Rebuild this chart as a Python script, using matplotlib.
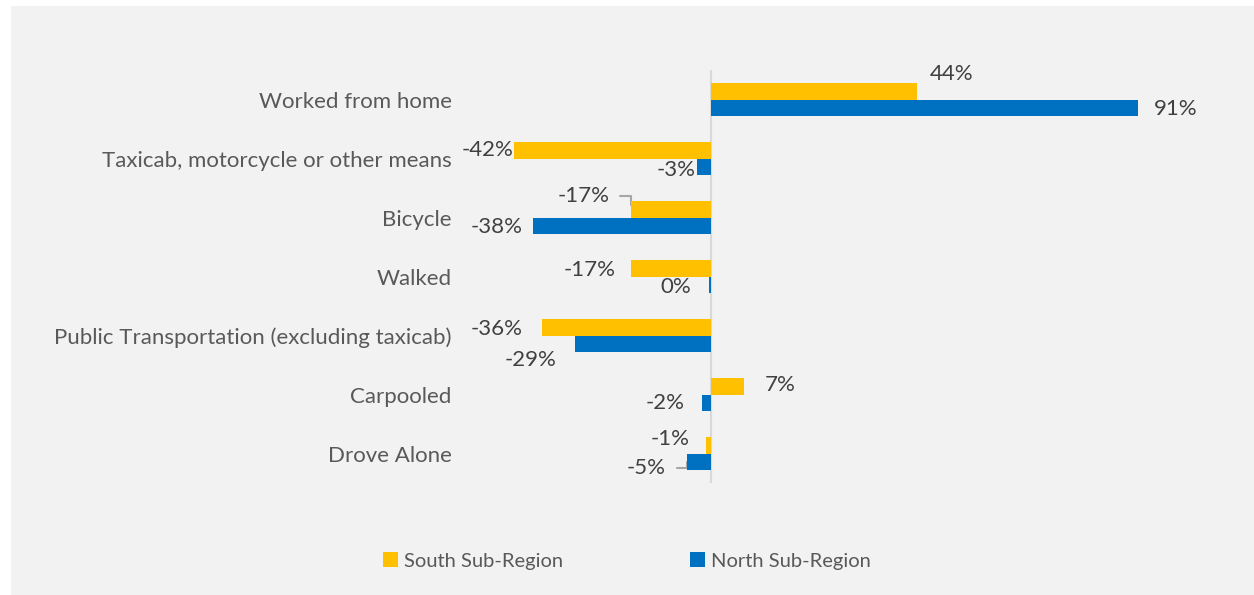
import matplotlib.pyplot as plt
from matplotlib.patches import Rectangle
import numpy as np

# change in means of transportation, percent
categories = ["Worked from home", "Taxicab, motorcycle or other means", "Bicycle",
              "Walked", "Public Transportation (excluding taxicab)", "Carpooled",
              "Drove Alone"]
south = [44, -42, -17, -17, -36, 7, -1]
north = [91, -3, -38, -0.4, -29, -2, -5]
series_names = ["South Sub-Region", "North Sub-Region"]

# label offsets (pixels) from bar end, Excel-ish placement
south_off = [(34, 17), (-26, 0), (-48, 9), (-42, -2), (-45, -2), (36, 1), (-36, 6)]
north_off = [(38, -1), (-21, -3), (-36, -1), (-33, -2), (-44, -16), (-36, 0), (-41, -6)]
south_leader = [False, False, True, False, False, False, False]
north_leader = [False, False, False, False, False, False, True]

plt.rcParams['font.family'] = ['Lato', 'DejaVu Sans']

yellow = "#FFC000"
blue = "#0070C0"
txt = "#404040"
fs = 16

fig = plt.figure(figsize=(12.54, 5.95), dpi=100, facecolor="white")
fig.patches.append(Rectangle((11 / 1254, 0), 1, 1 - 6 / 595, transform=fig.transFigure,
                             facecolor="#F2F2F2", edgecolor="none", zorder=-5))

ax = fig.add_axes([460 / 1254, 1 - 483 / 595, 750 / 1254, 413 / 595])
ax.set_facecolor("none")

y = np.arange(len(categories))
h = 0.288
ax.barh(y - h / 2, south, height=h, color=yellow, label=series_names[0], zorder=2)
ax.barh(y + h / 2, north, height=h, color=blue, label=series_names[1], zorder=2)

ax.set_xlim(-53.5, 106.4)
ax.set_ylim(len(categories) - 0.5, -0.5)
ax.axvline(0, color="#D9D9D9", lw=1.5, zorder=1)

ax.set_yticks(y)
ax.set_yticklabels(categories, fontsize=fs, color="#595959")
ax.tick_params(axis="y", length=0, pad=6)
ax.set_xticks([])
for s in ax.spines.values():
    s.set_visible(False)

def add_labels(vals, offs, leaders, yy):
    for v, (dx, dy), ld, yc in zip(vals, offs, leaders, yy):
        ap = None
        if ld:
            ap = dict(arrowstyle="-", color="#A6A6A6", lw=1.5,
                      connectionstyle="angle,angleA=0,angleB=90,rad=0",
                      relpos=(1, 0.5), shrinkA=6, shrinkB=0)
        ax.annotate(f"{int(round(v))}%", xy=(v, yc), xytext=(dx, dy),
                    textcoords="offset pixels", ha="center", va="center",
                    fontsize=fs, color=txt, arrowprops=ap, zorder=1)

lead_s = np.array(south_leader, dtype=float)
add_labels(south, south_off, south_leader, y - h / 2 - (h / 4) * lead_s)
add_labels(north, north_off, north_leader, y + h / 2)

fig.legend(loc="center", bbox_to_anchor=(627 / 1254, 1 - 561 / 595), ncol=2,
           frameon=False, fontsize=14.5, labelcolor="#595959",
           handlelength=0.75, handleheight=0.75, handletextpad=0.3,
           columnspacing=6.3)

fig.savefig("out.png", dpi=100, facecolor="white")
